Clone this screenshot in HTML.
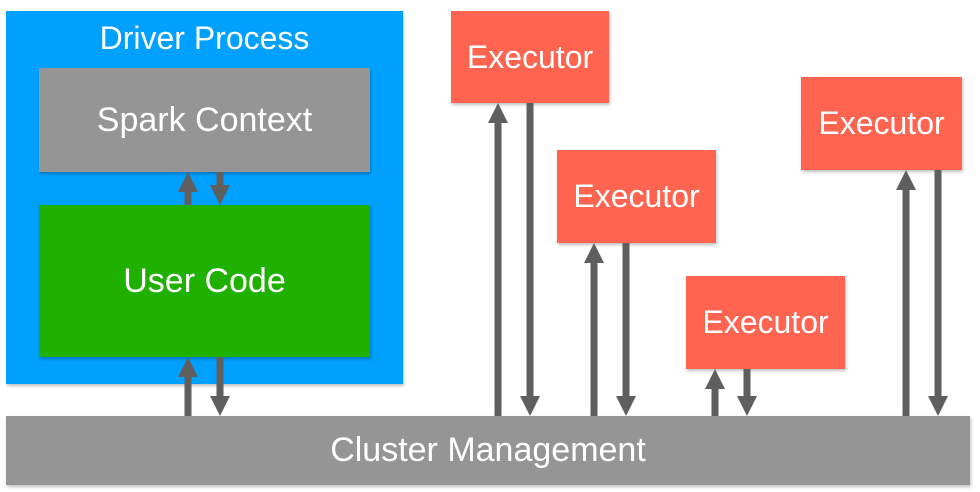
<!DOCTYPE html>
<html><head><style>
body{margin:0;width:980px;height:492px;background:#fff;overflow:hidden;position:relative;font-family:"Liberation Sans",sans-serif;}
.b{position:absolute;color:#fff;display:flex;align-items:center;justify-content:center;box-shadow:1px 2px 3px rgba(0,0,0,0.25);}
.ex{background:#fe6450;font-size:32px;}
svg{position:absolute;left:0;top:0;}
</style></head><body>
<div class="b" style="left:6px;top:11px;width:397px;height:373px;background:#00a0fe;align-items:flex-start;font-size:32px;"><div style="margin-top:9px;">Driver Process</div></div>
<div class="b" style="left:39px;top:68px;width:331px;height:104px;background:#959595;font-size:34px;">Spark Context</div>
<div class="b" style="left:39px;top:205px;width:331px;height:152px;background:#1fb000;font-size:34px;">User Code</div>
<div class="b" style="left:6px;top:416px;width:964px;height:69px;background:#959595;font-size:34px;">Cluster Management</div>
<div class="b ex" style="left:451px;top:11px;width:158px;height:92px;">Executor</div>
<div class="b ex" style="left:557px;top:150px;width:159px;height:93px;">Executor</div>
<div class="b ex" style="left:686px;top:276px;width:159px;height:93px;">Executor</div>
<div class="b ex" style="left:801px;top:77px;width:161px;height:93px;">Executor</div>
<svg width="980" height="492">
<g fill="#5f5f5f" stroke="#5f5f5f" stroke-width="7">
<line x1="188" y1="205" x2="188" y2="190"/><polygon stroke="none" points="178,192 198,192 188,172"/>
<line x1="220" y1="172" x2="220" y2="187"/><polygon stroke="none" points="210,185 230,185 220,205"/>
<line x1="188" y1="416" x2="188" y2="375"/><polygon stroke="none" points="178,377 198,377 188,357"/>
<line x1="220" y1="357" x2="220" y2="398"/><polygon stroke="none" points="210,396 230,396 220,416"/>
<line x1="498" y1="416" x2="498" y2="121"/><polygon stroke="none" points="488,123 508,123 498,103"/>
<line x1="530" y1="103" x2="530" y2="398"/><polygon stroke="none" points="520,396 540,396 530,416"/>
<line x1="594" y1="416" x2="594" y2="261"/><polygon stroke="none" points="584,263 604,263 594,243"/>
<line x1="626" y1="243" x2="626" y2="398"/><polygon stroke="none" points="616,396 636,396 626,416"/>
<line x1="715" y1="416" x2="715" y2="387"/><polygon stroke="none" points="705,389 725,389 715,369"/>
<line x1="747" y1="369" x2="747" y2="398"/><polygon stroke="none" points="737,396 757,396 747,416"/>
<line x1="906" y1="416" x2="906" y2="188"/><polygon stroke="none" points="896,190 916,190 906,170"/>
<line x1="938" y1="170" x2="938" y2="398"/><polygon stroke="none" points="928,396 948,396 938,416"/>
</g>
</svg>
</body></html>
